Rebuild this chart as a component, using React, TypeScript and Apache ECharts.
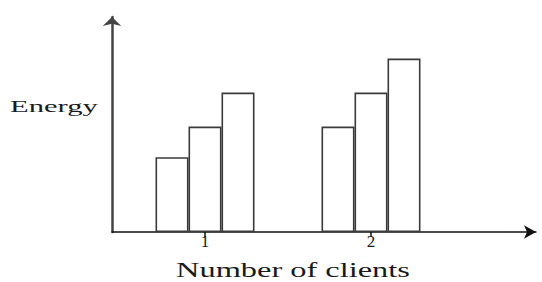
import React, { useEffect, useRef } from "react";
import * as echarts from "echarts";

const categories = ["1", "2"];
const seriesA = [2.2, 3.1];
const seriesB = [3.1, 4.1];
const seriesC = [4.1, 5.1];
const yLabel = "Energy";
const xLabel = "Number of clients";

const FONT = "'Liberation Serif', 'Times New Roman', serif";

export default function App() {
  const ref = useRef<HTMLDivElement>(null);
  useEffect(() => {
    if (!ref.current) return;
    const chart = echarts.init(ref.current, undefined, { renderer: "svg" });
    const barStyle = { color: "#ffffff", borderColor: "#3a3a3a", borderWidth: 1.6 };
    const mkBar = (data: number[]) => ({
      type: "bar",
      xAxisIndex: 0,
      yAxisIndex: 0,
      data,
      barWidth: 33,
      barGap: "0%",
      itemStyle: barStyle,
      silent: true,
    });
    chart.setOption({
      animation: false,
      backgroundColor: "#ffffff",
      grid: [
        { left: 122, right: 88, top: 28, bottom: 50 },
        { left: 112, right: 6, top: 17, bottom: 50 },
      ],
      xAxis: [
        {
          type: "category",
          gridIndex: 0,
          data: categories,
          offset: -5,
          axisLine: { show: false },
          axisTick: { show: true, alignWithLabel: true, length: 10, lineStyle: { color: "#111", width: 1.5 } },
          axisLabel: { fontFamily: FONT, fontSize: 17, color: "#1a1a1a", margin: 6 },
          splitLine: { show: false },
        },
        {
          type: "value",
          gridIndex: 1,
          min: 0,
          max: 1,
          axisLine: {
            show: true,
            symbol: ["none", "arrow"],
            symbolSize: [10, 12],
            lineStyle: { color: "#111", width: 1.5 },
          },
          axisTick: { show: false },
          axisLabel: { show: false },
          splitLine: { show: false },
        },
      ],
      yAxis: [
        {
          type: "value",
          gridIndex: 0,
          min: 0,
          max: 6,
          axisLine: { show: false },
          axisTick: { show: false },
          axisLabel: { show: false },
          splitLine: { show: false },
        },
        {
          type: "value",
          gridIndex: 1,
          min: 0,
          max: 1,
          axisLine: {
            show: true,
            symbol: ["none", "arrow"],
            symbolSize: [14, 9],
            lineStyle: { color: "#444", width: 2.5 },
          },
          axisTick: { show: false },
          axisLabel: { show: false },
          splitLine: { show: false },
        },
      ],
      graphic: [
        {
          type: "text",
          x: 10,
          y: 106,
          scaleX: 1.8,
          style: {
            text: yLabel,
            font: `17px ${FONT}`,
            fill: "#1a1a1a",
            textAlign: "left",
            textVerticalAlign: "middle",
            align: "left",
            verticalAlign: "middle",
          },
        },
        {
          type: "text",
          x: 293,
          y: 270,
          scaleX: 1.62,
          style: {
            text: xLabel,
            font: `20px ${FONT}`,
            fill: "#1a1a1a",
            textAlign: "center",
            textVerticalAlign: "middle",
            align: "center",
            verticalAlign: "middle",
          },
        },
      ],
      series: [mkBar(seriesA), mkBar(seriesB), mkBar(seriesC)],
    });
    return () => chart.dispose();
  }, []);
  return <div ref={ref} style={{ width: 542, height: 282, position: "absolute", left: 0, top: 0 }} />;
}
